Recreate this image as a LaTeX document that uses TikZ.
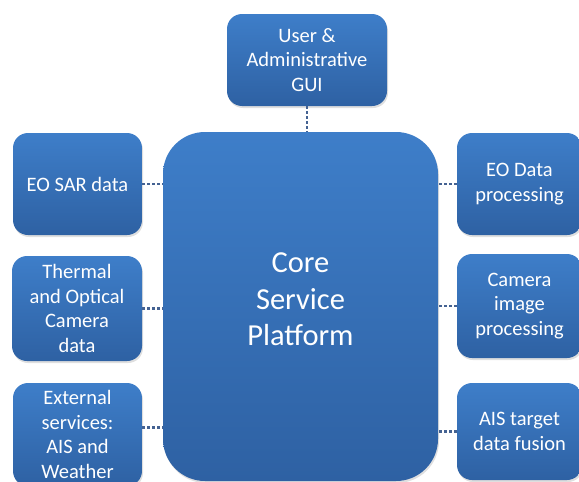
\documentclass[tikz,border=0pt]{standalone}
\usepackage{fontspec}
\setmainfont{Carlito}
\usetikzlibrary{shadows}
\definecolor{boxtop}{RGB}{62,126,201}
\definecolor{boxbottom}{RGB}{46,97,163}
\definecolor{linkcol}{RGB}{68,98,146}
\tikzset{
		block/.style={rounded corners=15pt, top color=boxtop, bottom color=boxbottom,
			text=white, align=center, inner sep=2pt,
			font=\fontsize{20.5}{24.5}\selectfont,
			drop shadow={opacity=0.25, shadow xshift=1pt, shadow yshift=-2pt}},
		platform/.style={block, rounded corners=42pt},
		platform text/.style={text=white, align=center, font=\fontsize{30.5}{36.5}\selectfont},
		link/.style={draw=linkcol, line width=2.2pt, dash pattern=on 2.5pt off 2.5pt}
	}
\begin{document}
\begin{tikzpicture}[x=1pt, y=-1pt]
				\useasboundingbox (0,0) rectangle (579,482);

				\node[block, minimum width=160pt, minimum height=92pt]  (gui)     at (307,60)      {User \&\\Administrative\\GUI};
				\node[platform, minimum width=275pt, minimum height=349pt,
				      label={[platform text, yshift=7pt]center:Core\\Service\\Platform}] (core) at (300.5,306.5) {};

				\node[block, minimum width=129pt, minimum height=102pt] (sar)     at (77.5,184)    {EO SAR data};
				\node[block, minimum width=130pt, minimum height=105pt] (thermal) at (77,308.5)    {Thermal\\and Optical\\Camera\\data};
				\node[block, minimum width=129pt, minimum height=103pt] (ext)     at (77.5,434.5)  {External\\services:\\AIS and\\Weather};

				\node[block, minimum width=125pt, minimum height=102pt] (eodata)  at (519.5,184)   {EO Data\\processing};
				\node[block, minimum width=125pt, minimum height=104pt] (camimg)  at (519.5,306)   {Camera\\image\\processing};
				\node[block, minimum width=125pt, minimum height=97pt]  (ais)     at (519.5,431.5) {AIS target\\data fusion};

				\coordinate (extlink) at ([yshift=7pt]ext.east);

				\path[link] (gui.south)     -- (gui.south |- core.north);
				\path[link] (sar.east)      -- (sar.east -| core.west);
				\path[link] (thermal.east)  -- (thermal.east -| core.west);
				\path[link] (extlink)       -- (extlink -| core.west);
				\path[link] (eodata.west)   -- (eodata.west -| core.east);
				\path[link] (camimg.west)   -- (camimg.west -| core.east);
				\path[link] (ais.west)      -- (ais.west -| core.east);
			\end{tikzpicture}
\end{document}
